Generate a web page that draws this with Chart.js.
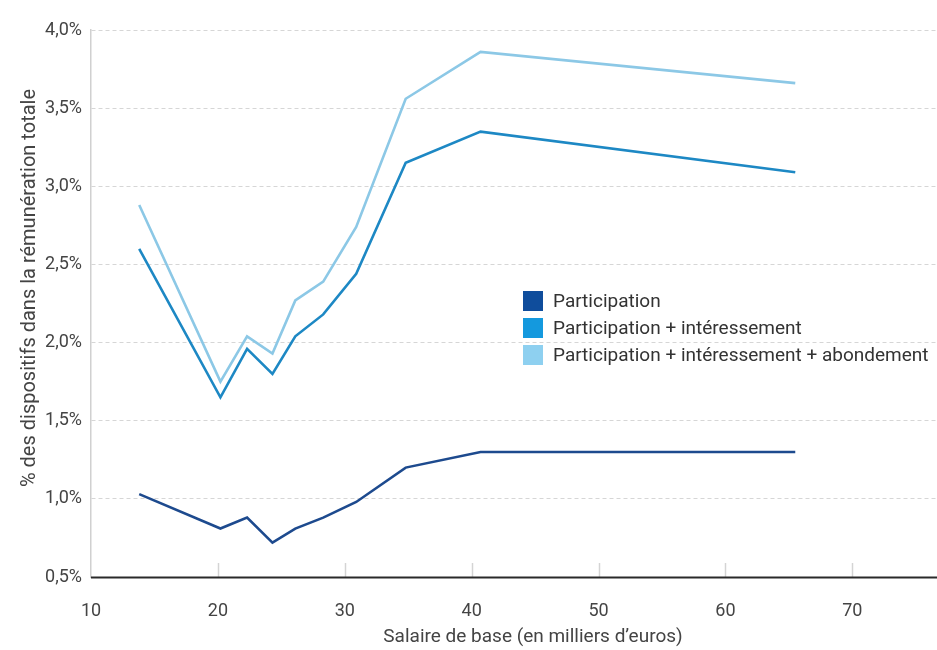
<!DOCTYPE html>
<html lang="fr">
<head>
<meta charset="utf-8">
<script src="https://cdn.jsdelivr.net/npm/chart.js@4.4.1/dist/chart.umd.min.js"></script>
<style>
  html, body { margin: 0; padding: 0; background: #ffffff; }
  #wrap { width: 937px; height: 650px; position: relative; }
</style>
</head>
<body>
<div id="wrap"><canvas id="c" width="937" height="650"></canvas></div>
<script>
// Salaire de base (milliers d'euros)
const salaire = [13.8, 20.2, 22.3, 24.3, 26.1, 28.3, 30.9, 34.8, 40.7, 65.5];
// Part des dispositifs dans la rémunération totale (%)
const participation = [1.03, 0.81, 0.88, 0.72, 0.81, 0.88, 0.98, 1.20, 1.30, 1.30];
const participationInteressement = [2.60, 1.65, 1.96, 1.80, 2.04, 2.18, 2.44, 3.15, 3.35, 3.09];
const participationInteressementAbondement = [2.88, 1.75, 2.04, 1.93, 2.27, 2.39, 2.74, 3.56, 3.86, 3.66];

const seriesLabels = [
  'Participation',
  'Participation + intéressement',
  'Participation + intéressement + abondement'
];
const xTicks = [10, 20, 30, 40, 50, 60, 70];
const xTitle = 'Salaire de base (en milliers d\u2019euros)';
const yTitle = '% des dispositifs dans la rémunération totale';

const lineColors = ['#1d4a8e', '#1d88c4', '#8cc8e6'];
const boxColors = ['#0f4d9c', '#1499de', '#8ed0f0'];
const FONT = 'Roboto, "Liberation Sans", sans-serif';

const toPoints = (ys) => salaire.map((x, i) => ({ x, y: ys[i] }));

// Small inward tick marks on the x axis, axis titles and the in-plot legend
const decorations = {
  id: 'decorations',
  afterDatasetsDraw(chart) {
    const { ctx, chartArea, scales } = chart;
    const xs = scales.x;
    ctx.save();
    ctx.strokeStyle = '#d4d4d4';
    ctx.lineWidth = 1.5;
    xTicks.forEach(v => {
      if (v === xs.min) return;
      const px = Math.round(xs.getPixelForValue(v)) + 0.5;
      ctx.beginPath();
      ctx.moveTo(px, chartArea.bottom - 14);
      ctx.lineTo(px, chartArea.bottom);
      ctx.stroke();
    });
    // bottom axis line
    ctx.strokeStyle = '#2a2a2a';
    ctx.lineWidth = 2;
    ctx.beginPath();
    ctx.moveTo(chartArea.left, chartArea.bottom + 0.5);
    ctx.lineTo(chartArea.right, chartArea.bottom + 0.5);
    ctx.stroke();

    // legend
    ctx.font = '19px ' + FONT;
    ctx.textBaseline = 'middle';
    ctx.textAlign = 'left';
    const lx = 523, ly0 = 301, step = 27, bs = 20;
    seriesLabels.forEach((t, i) => {
      const cy = ly0 + i * step;
      const w = ctx.measureText(t).width;
      ctx.fillStyle = '#ffffff';
      ctx.fillRect(lx - 4, cy - 12, bs + 14 + w + 6, 24);
    });
    seriesLabels.forEach((t, i) => {
      const cy = ly0 + i * step;
      ctx.fillStyle = boxColors[i];
      ctx.fillRect(lx, cy - bs / 2, bs, bs);
      ctx.fillStyle = '#333333';
      ctx.fillText(t, lx + bs + 10, cy + 1);
    });

    // axis titles
    ctx.fillStyle = '#444444';
    ctx.textAlign = 'center';
    ctx.font = '19px ' + FONT;
    ctx.fillText(xTitle, 533, 637);
    ctx.save();
    ctx.translate(30, 288);
    ctx.rotate(-Math.PI / 2);
    ctx.font = '20px ' + FONT;
    ctx.fillText(yTitle, 0, 0);
    ctx.restore();
    ctx.restore();
  }
};

new Chart(document.getElementById('c'), {
  type: 'line',
  data: {
    datasets: [
      { label: seriesLabels[0], data: toPoints(participation), borderColor: lineColors[0] },
      { label: seriesLabels[1], data: toPoints(participationInteressement), borderColor: lineColors[1] },
      { label: seriesLabels[2], data: toPoints(participationInteressementAbondement), borderColor: lineColors[2] }
    ].map(d => Object.assign(d, { borderWidth: 2.6, pointRadius: 0, tension: 0, fill: false }))
  },
  options: {
    responsive: false,
    animation: false,
    layout: { padding: { top: 30, right: 0, bottom: 0, left: 0 } },
    plugins: { legend: { display: false }, tooltip: { enabled: false } },
    scales: {
      x: {
        type: 'linear',
        min: 10,
        max: 76.67,
        afterBuildTicks: (s) => { s.ticks = xTicks.map(v => ({ value: v })); },
        afterFit: (s) => { s.height = 73; },
        grid: { display: false, drawTicks: false },
        border: { display: false },
        ticks: {
          padding: 24,
          color: '#444444',
          font: { family: FONT, size: 18 },
          maxRotation: 0,
          callback: (v) => String(v)
        }
      },
      y: {
        min: 0.5,
        max: 4.0,
        afterFit: (s) => { s.width = 91; },
        ticks: {
          stepSize: 0.5,
          padding: 9,
          color: '#444444',
          font: { family: FONT, size: 18 },
          callback: (v) => v.toFixed(1).replace('.', ',') + '%'
        },
        grid: {
          drawTicks: false,
          color: (c) => (c.tick && c.tick.value === 0.5 ? 'rgba(0,0,0,0)' : '#d6d6d6'),
          lineWidth: 1
        },
        border: { display: true, color: '#d0d0d0', width: 1.5, dash: [4, 3] }
      }
    }
  },
  plugins: [decorations]
});
</script>
</body>
</html>
